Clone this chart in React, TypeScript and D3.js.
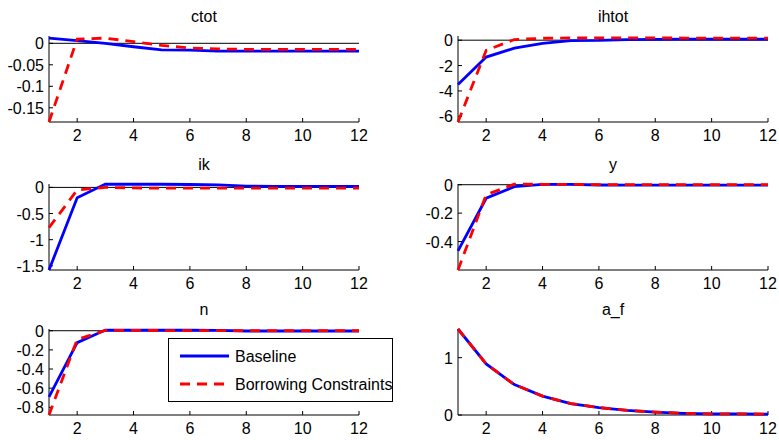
import * as d3 from 'd3'

const periods = [1, 2, 3, 4, 5, 6, 7, 8, 9, 10, 11, 12]
const xTicks = [2, 4, 6, 8, 10, 12]

const ctotBase = [0.012, 0.006, 0.0, -0.008, -0.0155, -0.016, -0.018, -0.018, -0.018, -0.018, -0.018, -0.018]
const ctotBorrow = [-0.183, 0.01, 0.012, 0.004, -0.005, -0.011, -0.013, -0.014, -0.014, -0.014, -0.014, -0.014]

const ihtotBase = [-3.5, -1.33, -0.63, -0.25, -0.03, -0.02, 0.05, 0.07, 0.08, 0.08, 0.08, 0.08]
const ihtotBorrow = [-6.45, -0.8, 0.05, 0.15, 0.18, 0.18, 0.18, 0.18, 0.17, 0.17, 0.16, 0.16]

const ikBase = [-1.58, -0.2, 0.063, 0.06, 0.06, 0.055, 0.05, 0.025, 0.02, 0.02, 0.02, 0.02]
const ikBorrow = [-0.77, -0.05, 0.0, -0.01, -0.015, -0.015, -0.015, -0.015, -0.015, -0.015, -0.015, -0.015]

const yBase = [-0.465, -0.095, -0.014, 0.002, 0.002, -0.002, -0.003, -0.003, -0.003, -0.003, -0.003, -0.003]
const yBorrow = [-0.6, -0.07, 0.004, 0.003, 0.002, 0.001, 0.0, 0.0, 0.0, 0.0, 0.0, 0.0]

const nBase = [-0.69, -0.125, 0.007, 0.005, 0.005, 0.005, 0.004, -0.003, -0.003, -0.003, -0.003, -0.003]
const nBorrow = [-0.88, -0.09, 0.003, 0.003, 0.002, 0.002, 0.001, 0.0, 0.0, 0.0, 0.0, 0.0]

const afBase = [1.5, 0.89, 0.53, 0.33, 0.2, 0.13, 0.08, 0.05, 0.03, 0.02, 0.02, 0.015]
const afBorrow = [1.5, 0.89, 0.53, 0.33, 0.2, 0.13, 0.08, 0.05, 0.03, 0.02, 0.02, 0.015]

const seriesNames = ['Baseline', 'Borrowing Constraints']

type Panel = {
  title: string
  base: number[]
  borrow: number[]
  domain: [number, number]
  ticks: number[]
}

const panels: Panel[] = [
  { title: 'ctot', base: ctotBase, borrow: ctotBorrow, domain: [-0.183, 0.017], ticks: [-0.15, -0.1, -0.05, 0] },
  { title: 'ihtot', base: ihtotBase, borrow: ihtotBorrow, domain: [-6.45, 0.33], ticks: [-6, -4, -2, 0] },
  { title: 'ik', base: ikBase, borrow: ikBorrow, domain: [-1.58, 0.065], ticks: [-1.5, -1, -0.5, 0] },
  { title: 'y', base: yBase, borrow: yBorrow, domain: [-0.6, 0.005], ticks: [-0.4, -0.2, 0] },
  { title: 'n', base: nBase, borrow: nBorrow, domain: [-0.88, 0.018], ticks: [-0.8, -0.6, -0.4, -0.2, 0] },
  { title: 'a_f', base: afBase, borrow: afBorrow, domain: [0, 1.5], ticks: [0, 1] },
]

const colLeft = [49, 458]
const rowBottom = [122, 270, 415]
const plotW = 310
const plotH = 86
const FONT = '"Liberation Sans", Arial, sans-serif'
const BLUE = '#0000ff'
const RED = '#ff0000'
const DASH = '10,7'

function Subplot({ p, i }: { p: Panel; i: number }) {
  const left = colLeft[i % 2]
  const bottom = rowBottom[Math.floor(i / 2)]
  const top = bottom - plotH
  const x = d3.scaleLinear().domain([1, 12]).range([left, left + plotW])
  const y = d3.scaleLinear().domain(p.domain).range([bottom, top])
  const line = d3
    .line<number>()
    .x((_, k) => x(periods[k]))
    .y((d) => y(d))
  return (
    <g>
      <text x={left + plotW / 2} y={top - 14} textAnchor="middle" fontSize={16} fontFamily={FONT}>
        {p.title}
      </text>
      {p.domain[0] < 0 && (
        <line x1={left} x2={left + plotW} y1={y(0)} y2={y(0)} stroke="#000" strokeWidth={1} />
      )}
      <line x1={left} x2={left + plotW} y1={bottom} y2={bottom} stroke="#000" strokeWidth={1} />
      <line x1={left} x2={left} y1={top} y2={bottom} stroke="#000" strokeWidth={1} />
      {xTicks.map((t) => (
        <g key={t}>
          <line x1={x(t)} x2={x(t)} y1={bottom} y2={bottom - 4} stroke="#000" />
          <text x={x(t)} y={bottom + 19} textAnchor="middle" fontSize={16} fontFamily={FONT}>
            {t}
          </text>
        </g>
      ))}
      {p.ticks.map((t) => (
        <g key={t}>
          <line x1={left} x2={left + 4} y1={y(t)} y2={y(t)} stroke="#000" />
          <text x={left - 5} y={y(t) + 6} textAnchor="end" fontSize={16} fontFamily={FONT}>
            {String(t)}
          </text>
        </g>
      ))}
      <path d={line(p.base) ?? ''} fill="none" stroke={BLUE} strokeWidth={2.8} />
      <path d={line(p.borrow) ?? ''} fill="none" stroke={RED} strokeWidth={2.8} strokeDasharray={DASH} />
    </g>
  )
}

export default function App() {
  return (
    <svg width={779} height={440} style={{ position: 'absolute', left: 0, top: 0, background: '#fff' }}>
      <rect x={0} y={0} width={779} height={440} fill="#fff" />
      {panels.map((p, i) => (
        <Subplot key={p.title} p={p} i={i} />
      ))}
      <g>
        <rect x={168.5} y={338.5} width={224} height={63} fill="#fff" stroke="#000" strokeWidth={1} />
        <line x1={180} x2={229} y1={356} y2={356} stroke={BLUE} strokeWidth={2.8} />
        <text x={235} y={362} fontSize={16} fontFamily={FONT}>
          {seriesNames[0]}
        </text>
        <line x1={180} x2={229} y1={384} y2={384} stroke={RED} strokeWidth={2.8} strokeDasharray={DASH} />
        <text x={235} y={390} fontSize={16} fontFamily={FONT}>
          {seriesNames[1]}
        </text>
      </g>
    </svg>
  )
}
